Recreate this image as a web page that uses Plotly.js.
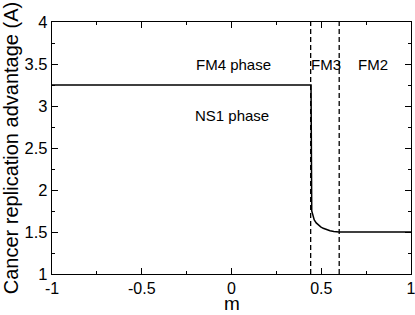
<!DOCTYPE html>
<html><head><meta charset="utf-8">
<script src="https://cdn.plot.ly/plotly-3.0.1.min.js"></script>
<style>html,body{margin:0;padding:0;background:#fff;}#chart{width:415px;height:315px;}</style>
</head><body><div id="chart"></div>
<script>
// Curve data
var mValues = [-1, 0.443, 0.447, 0.452, 0.461, 0.472, 0.484, 0.497, 0.511, 0.529, 0.549, 0.570, 0.6, 1];
var aValues = [3.25, 3.25, 1.75, 1.70, 1.643, 1.608, 1.583, 1.562, 1.544, 1.528, 1.514, 1.506, 1.5, 1.5];
// Phase boundaries (dashed)
var boundaries = [0.441, 0.6];
var yRange = [1, 4];
// Tick labels
var xTickVals = [-1, -0.5, 0, 0.5, 1];
var xTickText = ["-1", "-0.5", "0", "0.5", "1"];
var yTickVals = [1, 1.5, 2, 2.5, 3, 3.5, 4];
var yTickText = ["1", "1.5", "2", "2.5", "3", "3.5", "4"];
// Phase labels
var labelText = ["FM4 phase", "NS1 phase", "FM3", "FM2"];
var labelM = [0.01, 0.005, 0.529, 0.788];
var labelA = [3.5, 2.89, 3.5, 3.5];
var xTitle = 'm';
var yTitle = 'Cancer replication advantage (A)';

var traces = [{
  x: mValues, y: aValues, mode: 'lines', type: 'scatter',
  line: {color: '#000', width: 1.5}, hoverinfo: 'skip'
}];
boundaries.forEach(function(b){
  traces.push({x: [b, b], y: yRange, mode: 'lines', type: 'scatter',
    line: {color: '#000', width: 1.3, dash: '5px,3px'}, hoverinfo: 'skip'});
});

var ff = 'Liberation Sans, Arial, Helvetica, sans-serif';
var annotations = labelText.map(function(t, i){
  return {x: labelM[i], y: labelA[i], xref: 'x', yref: 'y', text: t, showarrow: false,
    font: {family: ff, size: 15, color: '#000'}};
});
annotations.push({x: 0.5, y: -0.163, xref: 'paper', yref: 'paper', text: xTitle,
  showarrow: false, xanchor: 'center', yanchor: 'bottom', borderpad: 0,
  font: {family: ff, size: 19, color: '#000'}});

var layout = {
  width: 415, height: 315,
  margin: {l: 52, r: 4, t: 22, b: 41},
  showlegend: false,
  paper_bgcolor: '#fff', plot_bgcolor: '#fff',
  font: {family: ff, color: '#000'},
  xaxis: {
    range: [-1, 1], tickmode: 'array', tickvals: xTickVals, ticktext: xTickText,
    ticks: 'inside', ticklen: 6, tickwidth: 1, tickcolor: '#000',
    minor: {dtick: 0.25, tick0: -1, ticks: 'inside', ticklen: 3, tickcolor: '#000'},
    showline: true, linecolor: '#000', linewidth: 1.2, mirror: 'allticks',
    showgrid: false, zeroline: false, ticklabeloverflow: 'allow',
    tickfont: {family: ff, size: 16, color: '#000'}
  },
  yaxis: {
    range: [1, 4], tickmode: 'array', tickvals: yTickVals, ticktext: yTickText,
    ticks: 'inside', ticklen: 6, tickwidth: 1, tickcolor: '#000',
    minor: {dtick: 0.25, tick0: 1, ticks: 'inside', ticklen: 3, tickcolor: '#000'},
    showline: true, linecolor: '#000', linewidth: 1.2, mirror: 'allticks',
    showgrid: false, zeroline: false, ticklabeloverflow: 'allow',
    tickfont: {family: ff, size: 16.5, color: '#000'},
    title: {text: yTitle, font: {family: ff, size: 20, color: '#000'}, standoff: 2}
  },
  annotations: annotations
};
Plotly.newPlot('chart', traces, layout, {staticPlot: true, displayModeBar: false});
</script>
</body></html>
